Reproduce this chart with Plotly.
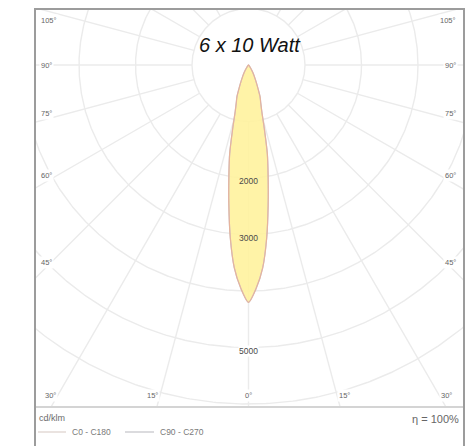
import numpy as np
import plotly.graph_objects as go

# ---------------- data ----------------
gamma_deg = [0, 2, 4, 6, 8, 10, 12, 14, 16, 18, 20, 22, 25, 30, 35, 40, 45, 50, 60, 75, 90]
c0_c180 = [4200, 3950, 3600, 3080, 2500, 2000, 1600, 1150, 850, 700, 600, 450, 300, 150, 60, 20, 5, 0, 0, 0, 0]
c90_c270 = [4200, 3950, 3600, 3080, 2500, 2000, 1600, 1150, 850, 700, 600, 450, 300, 150, 60, 20, 5, 0, 0, 0, 0]
ring_values = [1000, 2000, 3000, 4000, 5000, 6000]
ring_label_values = [2000, 3000, 5000]
side_angles = [45, 60, 75, 90, 105]
bottom_angles = [0, 15, 30]
spoke_step = 15
title_text = "6 x 10 Watt"
unit_text = "cd/klm"
legend_names = ["C0 - C180", "C90 - C270"]
efficiency_text = "η = 100%"

# ---------------- layout geometry ----------------
W, H = 475, 446
PL, PR, PT, PB = 35, 464, 9, 407          # plot-area pixel box
CX, CY = 248.5, 65                          # diagram centre (pixels)
S = 56.5 / 1000                             # pixels per cd/klm

def px2x(px):
    return (px - CX) / S

def py2y(py):
    return -(py - CY) / S

def ppx(px):
    return (px - PL) / (PR - PL)

def ppy(py):
    return (PB - py) / (PB - PT)

x_range = [px2x(PL), px2x(PR)]
y_range = [py2y(PB), py2y(PT)]

GRID = "#ebebeb"
FONT = "Liberation Sans, Arial, sans-serif"
C0_COL = "#e6b39c"
C90_COL = "#c4cbdc"
FILL = "rgba(255,241,155,0.88)"

fig = go.Figure()

# grid rings
t = np.linspace(0, 2 * np.pi, 721)
for r in ring_values:
    fig.add_trace(go.Scatter(x=r * np.cos(t), y=r * np.sin(t), mode="lines",
                             line=dict(color=GRID, width=1.4), hoverinfo="skip", showlegend=False))
# spokes
r0, r1 = ring_values[0], 12000
for a in range(0, 360, spoke_step):
    ar = np.radians(a)
    fig.add_trace(go.Scatter(x=[r0 * np.sin(ar), r1 * np.sin(ar)], y=[-r0 * np.cos(ar), -r1 * np.cos(ar)],
                             mode="lines", line=dict(color=GRID, width=1.4), hoverinfo="skip", showlegend=False))

def curve(vals):
    g = np.radians(np.array(gamma_deg, dtype=float))
    v = np.array(vals, dtype=float)
    th = np.concatenate([-g[::-1], g[1:]])
    vv = np.concatenate([v[::-1], v[1:]])
    return vv * np.sin(th), -vv * np.cos(th)

x90, y90 = curve(c90_c270)
fig.add_trace(go.Scatter(x=x90, y=y90, mode="lines", line=dict(color=C90_COL, width=1.2, shape="spline", smoothing=0.7),
                         fill="toself", fillcolor=FILL, hoverinfo="skip", showlegend=False))
x0, y0 = curve(c0_c180)
fig.add_trace(go.Scatter(x=x0, y=y0, mode="lines", line=dict(color=C0_COL, width=1.2, shape="spline", smoothing=0.7),
                         hoverinfo="skip", showlegend=False))

ann = []
# title
ann.append(dict(x=px2x(250), y=py2y(45), xref="x", yref="y", text="<i>" + title_text + "</i>",
                showarrow=False, font=dict(family=FONT, size=20, color="#111111")))
# ring labels
peak = max(c0_c180)
for rv in ring_label_values:
    ann.append(dict(x=0, y=-rv, xref="x", yref="y", text=str(rv), showarrow=False, yshift=-3,
                    font=dict(family=FONT, size=8.5, color="#4a4a4a"),
                    bgcolor="white" if rv > peak else "rgba(0,0,0,0)", borderpad=0))
# side angle labels
LX_IN = 45
for a in side_angles:
    ar = np.radians(a)
    tt = (CX - LX_IN) / np.sin(ar)
    py = CY + tt * np.cos(ar)
    if a < 90:
        ya, ys = "bottom", 0
    elif a == 90:
        ya, ys = "middle", 0
    else:
        ya, ys = "top", -4
    for px, xa in ((39, "left"), (458, "right")):
        ann.append(dict(x=px2x(px), y=py2y(py), xref="x", yref="y", text=f"{a}°", showarrow=False,
                        xanchor=xa, yanchor=ya, yshift=ys, bgcolor="white", borderpad=1,
                        font=dict(family=FONT, size=7.5, color="#666666")))
# bottom angle labels
BY_IN = 395
for a in bottom_angles:
    ar = np.radians(a)
    tt = (BY_IN - CY) / np.cos(ar)
    dx = tt * np.sin(ar)
    sides = [(CX, "center")] if a == 0 else [(CX - dx, "right"), (CX + dx, "left")]
    for px, xa in sides:
        ann.append(dict(x=px2x(px), y=py2y(BY_IN), xref="x", yref="y", text=f"{a}°", showarrow=False,
                        xanchor=xa, yanchor="middle", bgcolor="white", borderpad=1,
                        font=dict(family=FONT, size=7.5, color="#666666")))

# footer texts
ann.append(dict(x=ppx(37), y=ppy(418), xref="paper", yref="paper", text=unit_text, showarrow=False,
                xanchor="left", yanchor="middle", font=dict(family=FONT, size=9, color="#6a6a6a")))
ann.append(dict(x=ppx(70), y=ppy(432), xref="paper", yref="paper", text=legend_names[0], showarrow=False,
                xanchor="left", yanchor="middle", font=dict(family=FONT, size=8.5, color="#7a7a7a")))
ann.append(dict(x=ppx(158), y=ppy(432), xref="paper", yref="paper", text=legend_names[1], showarrow=False,
                xanchor="left", yanchor="middle", font=dict(family=FONT, size=8.5, color="#7a7a7a")))
ann.append(dict(x=ppx(461), y=ppy(419), xref="paper", yref="paper", text=efficiency_text, showarrow=False,
                xanchor="right", yanchor="middle", font=dict(family=FONT, size=11, color="#666666")))

shapes = [
    # legend samples
    dict(type="line", xref="paper", yref="paper", x0=ppx(38), x1=ppx(66), y0=ppy(432), y1=ppy(432),
         line=dict(color="#dcd0cc", width=1.2)),
    dict(type="line", xref="paper", yref="paper", x0=ppx(125), x1=ppx(154), y0=ppy(432), y1=ppy(432),
         line=dict(color="#c4c4c8", width=1.2)),
    # separator
    dict(type="line", xref="paper", yref="paper", x0=ppx(PL), x1=ppx(PR), y0=ppy(PB), y1=ppy(PB),
         line=dict(color="#d4d4d4", width=2)),
    # frame
    dict(type="line", xref="paper", yref="paper", x0=ppx(PL), x1=ppx(PL), y0=ppy(PT), y1=ppy(H + 5),
         line=dict(color="#9c9c9c", width=2)),
    dict(type="line", xref="paper", yref="paper", x0=ppx(PR), x1=ppx(PR), y0=ppy(PT), y1=ppy(H + 5),
         line=dict(color="#9c9c9c", width=2)),
    dict(type="line", xref="paper", yref="paper", x0=ppx(PL - 1), x1=ppx(PR + 1), y0=ppy(PT), y1=ppy(PT),
         line=dict(color="#9c9c9c", width=2)),
]

fig.update_layout(
    width=W, height=H,
    margin=dict(l=PL, r=W - PR, t=PT, b=H - PB, pad=0),
    paper_bgcolor="white", plot_bgcolor="white",
    xaxis=dict(range=x_range, visible=False, fixedrange=True),
    yaxis=dict(range=y_range, visible=False, fixedrange=True),
    annotations=ann, shapes=shapes, showlegend=False,
)
fig.write_html("out.html", config={"displayModeBar": False},
               post_script="document.body.style.margin='0px';document.body.style.overflow='hidden';")
